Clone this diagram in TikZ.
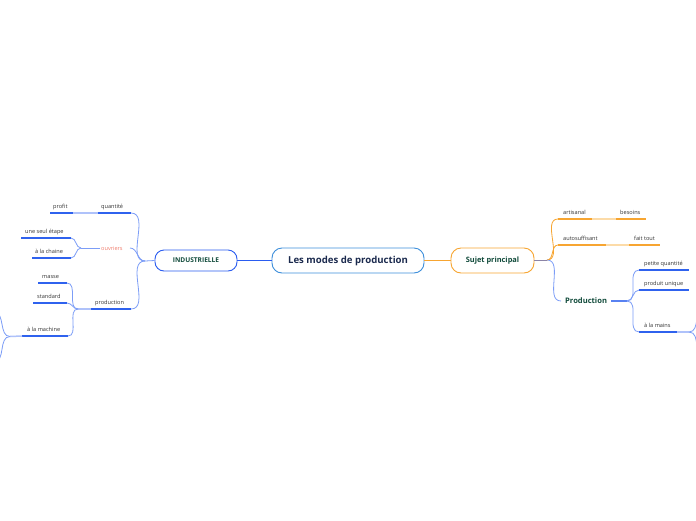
\documentclass[tikz,border=0pt]{standalone}
\usepackage{fontspec}
\setmainfont{Open Sans}
\definecolor{ublue}{HTML}{2F62EE}
\definecolor{cblue}{HTML}{7C9DF7}
\definecolor{lblue}{HTML}{AFC2FA}
\definecolor{nblue}{HTML}{3C8EDB}
\definecolor{iblue}{HTML}{2A5CF0}
\definecolor{orng}{HTML}{F7A531}
\definecolor{lorng}{HTML}{FCDBA8}
\definecolor{dgreen}{HTML}{114B3B}
\definecolor{navy}{HTML}{1B2A4E}
\definecolor{salmon}{HTML}{F07E6E}
\definecolor{txtgray}{HTML}{333333}
\definecolor{pgray}{HTML}{8C84A6}
\tikzset{
  lbl/.style={font=\fontsize{5.6}{6}\selectfont, text=txtgray, inner sep=0pt, anchor=base west},
  ul/.style={line width=1.5pt, ublue},
  ulo/.style={line width=1.5pt, orng},
  brb/.style={line width=0.8pt, cblue},
  lnb/.style={line width=1.5pt, lblue},
  lno/.style={line width=1.5pt, lorng},
  bro/.style={line width=0.8pt, orng},
}
\begin{document}
\begin{tikzpicture}[x=1pt,y=-1pt]
\clip (0,0) rectangle (696,520);
\fill[white] (0,0) rectangle (696,520);

% main nodes
\node[draw=nblue, line width=0.9pt, rounded corners=10pt, minimum width=152pt, minimum height=25pt,
  font=\fontsize{9.6}{11}\selectfont\bfseries, text=navy] (c) at (348,260.5) {Les modes de production};
\node[draw=iblue, line width=0.9pt, rounded corners=9pt, minimum width=82pt, minimum height=21pt,
  font=\fontsize{6.6}{8}\selectfont\bfseries, text=dgreen] (ind) at (196,260.5) {INDUSTRIELLE};
\node[draw=orng, line width=0.9pt, rounded corners=10pt, minimum width=83pt, minimum height=25pt,
  font=\fontsize{7.4}{9}\selectfont\bfseries, text=dgreen] (suj) at (492.5,260.5) {Sujet principal};

\draw[line width=0.8pt, iblue] (c.west) -- (ind.east);
\draw[line width=0.8pt, orng] (c.east) -- (suj.west);

% ---------------- left side ----------------
\coordinate (bL) at (145,261);
\draw[brb] (ind.west) -- (bL);

% quantite / profit
\coordinate (qL) at (98,213); \coordinate (qR) at (131,213);
\coordinate (pfL) at (50,213); \coordinate (pfR) at (73,213);
\node[lbl] (qt) at (101,208) {quantité};
\node[lbl] (pf) at (53,208) {profit};
\draw[brb] (bL) to[out=180,in=0] (qR);
\draw[ul] (qL) -- (qR);
\draw[lnb] (pfR) -- (qL);
\draw[ul] (pfL) -- (pfR);

% ouvriers
\coordinate (ouR) at (130,248); \coordinate (ouL) at (100,248);
\coordinate (bO) at (81,248);
\node[lbl, text=salmon] (ou) at (101,250) {ouvriers};
\draw[brb] (bL) to[out=180,in=0] (ouR);
\draw[brb] (ouL) -- (bO);
\coordinate (etL) at (21,238); \coordinate (etR) at (71,238);
\coordinate (chL) at (32,258); \coordinate (chR) at (71,258);
\node[lbl] (et) at (25,233) {une seul étape};
\node[lbl] (ch) at (35,253) {à la chaine};
\draw[brb] (bO) to[out=180,in=0] (etR);
\draw[brb] (bO) to[out=180,in=0] (chR);
\draw[ul] (etL) -- (etR);
\draw[ul] (chL) -- (chR);

% production
\coordinate (pdL) at (91,309); \coordinate (pdR) at (131,309);
\coordinate (bP) at (78,309);
\node[lbl] (pd) at (95,304) {production};
\draw[brb] (bL) to[out=180,in=0] (pdR);
\draw[ul] (pdL) -- (pdR);
\draw[lnb] (pdL) -- (bP);
\coordinate (maL) at (38,283); \coordinate (maR) at (67,283);
\coordinate (stL) at (33,303); \coordinate (stR) at (67,303);
\coordinate (mcL) at (22,336); \coordinate (mcR) at (68,336);
\node[lbl] (ma) at (42,278) {masse};
\node[lbl] (st) at (37,298) {standard};
\node[lbl] (mc) at (27,331) {à la machine};
\draw[brb] (bP) to[out=180,in=0] (maR);
\draw[brb] (bP) to[out=180,in=0] (stR);
\draw[brb] (bP) to[out=180,in=0] (mcR);
\draw[ul] (maL) -- (maR);
\draw[ul] (stL) -- (stR);
\draw[ul] (mcL) -- (mcR);
\coordinate (bM) at (10,336.5);
\coordinate (off1) at (-6,312); \coordinate (off2) at (-6,362);
\draw[lnb] (mcL) -- (bM);
\draw[brb] (bM) to[out=180,in=0] (off1);
\draw[brb] (bM) to[out=180,in=0] (off2);

% ---------------- right side ----------------
\coordinate (bS) at (547,260);
\draw[line width=0.8pt, pgray] (suj.east |- bS) -- (bS);

\coordinate (arL) at (558,219); \coordinate (arR) at (592,219);
\coordinate (beL) at (616,219); \coordinate (beR) at (646,219);
\node[lbl] (ar) at (563,214) {artisanal};
\node[lbl] (be) at (620,214) {besoins};
\draw[bro] (bS) to[out=0,in=180] (arL);
\draw[ulo] (arL) -- (arR);
\draw[lno] (arR) -- (beL);
\draw[ulo] (beL) -- (beR);

\coordinate (auL) at (558,245); \coordinate (auR) at (606,245);
\coordinate (ftL) at (629,245); \coordinate (ftR) at (660,245);
\node[lbl] (au) at (563,240) {autosuffisant};
\node[lbl] (ft) at (634,240) {fait tout};
\draw[bro] (bS) to[out=0,in=180] (auL);
\draw[ulo] (auL) -- (auR);
\draw[lno] (auR) -- (ftL);
\draw[ulo] (ftL) -- (ftR);

\node[font=\fontsize{7.6}{9}\selectfont\bfseries, text=dgreen, inner xsep=4pt, inner ysep=0pt, anchor=west] (prod) at (561,301) {Production};
\draw[brb] (bS) to[out=0,in=180] (prod.west);
\coordinate (bPr) at (627,301);
\draw[line width=1.2pt, ublue!80] (prod.east) -- (bPr);

\coordinate (pqL) at (639,270); \coordinate (pqR) at (689,270);
\coordinate (puL) at (639,290); \coordinate (puR) at (689,290);
\coordinate (amL) at (639,332); \coordinate (amR) at (677,332);
\node[lbl] (pq) at (644,265) {petite quantité};
\node[lbl] (pu) at (644,285) {produit unique};
\node[lbl] (am) at (644,327) {à la mains};
\draw[brb] (bPr) to[out=0,in=180] (pqL);
\draw[brb] (bPr) to[out=0,in=180] (puL);
\draw[brb] (bPr) to[out=0,in=180] (amL);
\draw[ul] (pqL) -- (pqR);
\draw[ul] (puL) -- (puR);
\draw[ul] (amL) -- (amR);
\coordinate (bA) at (689,332);
\coordinate (off3) at (705,305); \coordinate (off4) at (705,362);
\draw[lnb] (amR) -- (bA);
\draw[brb] (bA) to[out=0,in=180] (off3);
\draw[brb] (bA) to[out=0,in=180] (off4);
\end{tikzpicture}
\end{document}
